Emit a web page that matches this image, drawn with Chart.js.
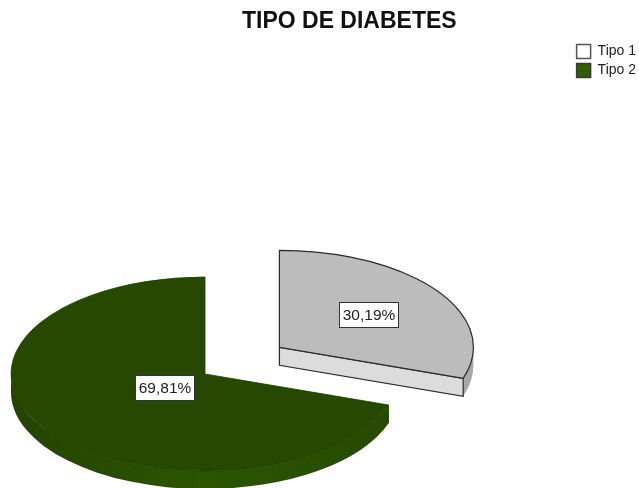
<!DOCTYPE html>
<html>
<head>
<meta charset="utf-8">
<style>html,body{margin:0;padding:0;background:#fff}canvas{display:block;filter:blur(0.4px)}</style>
<script src="https://cdn.jsdelivr.net/npm/chart.js@4/dist/chart.umd.min.js"></script>
</head>
<body>
<canvas id="c" width="639" height="488"></canvas>
<script>
const titleText = 'TIPO DE DIABETES';
const categories = ['Tipo 1', 'Tipo 2'];
const percentages = [30.19, 69.81];
const topColors = ['#bcbcbc', '#264800'];
const legendColors = ['#ffffff', '#2f6000'];
const outlineColors = ['#2a2a2a', '#1f3d00'];
const legendOutline = ['#555555', '#3a3a3a'];
const explode = [91.6, 0];
const labelRadius = [0.57, 0.25];

const PIE_X = 205, PIE_Y = 374, RADIUS = 194, TILT = 0.5, DEPTH = 18;

function formatPct(v){ return v.toFixed(2).replace('.', ',') + '%'; }

const tiltedPie = {
  id: 'tiltedPie',
  beforeDatasetsDraw(chart) {
    const ctx = chart.ctx;
    const arcs = chart.getDatasetMeta(0).data;
    const geo = arcs.map((arc, i) => {
      const mid = (arc.startAngle + arc.endAngle) / 2;
      return {
        arc, i, mid,
        a0: arc.startAngle, a1: arc.endAngle,
        cx: PIE_X + Math.cos(mid) * explode[i],
        cy: PIE_Y + Math.sin(mid) * explode[i] * TILT,
        rx: arc.outerRadius, ry: arc.outerRadius * TILT
      };
    });
    // Draw the un-exploded slice first, so the exploded one sits on top.
    [geo[1], geo[0]].forEach(g => {
      const { arc, i, a0, a1, cx, cy, rx, ry } = g;
      // outer wall: only the part facing the viewer
      const wallStart = Math.max(a0, 0), wallEnd = Math.min(a1, Math.PI);
      if (wallEnd > wallStart) {
        const grad = ctx.createLinearGradient(cx - rx, 0, cx + rx, 0);
        if (i === 1) {
          grad.addColorStop(0, '#234400');
          grad.addColorStop(0.5, '#2b5500');
          grad.addColorStop(1, '#264a00');
        } else {
          grad.addColorStop(0, '#a8a8a8');
          grad.addColorStop(1, '#a8a8a8');
        }
        ctx.save();
        ctx.beginPath();
        ctx.ellipse(cx, cy, rx, ry, 0, wallStart, wallEnd);
        ctx.ellipse(cx, cy + DEPTH, rx, ry, 0, wallEnd, wallStart, true);
        ctx.closePath();
        ctx.fillStyle = grad;
        ctx.fill();
        ctx.restore();
      }
      // radial cut face, visible when the edge faces the viewer
      if (i === 0) {
        const ex = cx + Math.cos(a1) * rx, ey = cy + Math.sin(a1) * ry;
        ctx.beginPath();
        ctx.moveTo(cx, cy);
        ctx.lineTo(ex, ey);
        ctx.lineTo(ex, ey + DEPTH);
        ctx.lineTo(cx, cy + DEPTH);
        ctx.closePath();
        ctx.fillStyle = '#dcdcdc';
        ctx.fill();
        ctx.strokeStyle = outlineColors[i];
        ctx.lineWidth = 1.2;
        ctx.stroke();
      }
      // top face: the library's own arc, under a tilt transform
      ctx.save();
      ctx.translate(cx, cy);
      ctx.scale(1, TILT);
      ctx.translate(-arc.x, -arc.y);
      arc.draw(ctx);
      ctx.restore();
      // outline of the top face
      ctx.beginPath();
      ctx.ellipse(cx, cy, rx, ry, 0, a0, a1);
      ctx.lineTo(cx, cy);
      ctx.closePath();
      ctx.strokeStyle = outlineColors[i];
      ctx.lineWidth = i === 0 ? 1.2 : 0.8;
      ctx.stroke();
      if (i === 1) {
        const ex = cx + Math.cos(a0) * rx, ey = cy + Math.sin(a0) * ry;
        ctx.fillStyle = '#264a00';
        ctx.fillRect(ex - 1, ey, 1, DEPTH);
      }
    });
    // value labels
    geo.forEach(g => {
      const { i, mid, cx, cy, rx, ry } = g;
      const lx = cx + Math.cos(mid) * rx * labelRadius[i];
      const ly = cy + Math.sin(mid) * ry * labelRadius[i];
      const text = formatPct(percentages[i]);
      ctx.font = '15.5px "Liberation Sans", Arial, sans-serif';
      ctx.textAlign = 'center';
      ctx.textBaseline = 'middle';
      const w = 59, h = 25;
      const bx = Math.round(lx - w / 2) - 1, by = Math.round(ly - h / 2) - 1;
      ctx.fillStyle = '#ffffff';
      ctx.fillRect(bx, by, w, h);
      ctx.strokeStyle = '#333333';
      ctx.lineWidth = 1;
      ctx.strokeRect(bx + 0.5, by + 0.5, w, h);
      ctx.fillStyle = '#222222';
      ctx.fillText(text, bx + 30, by + 13.5);
    });
    return false;
  }
};

new Chart(document.getElementById('c'), {
  type: 'pie',
  data: {
    labels: categories,
    datasets: [{
      data: percentages,
      backgroundColor: topColors,
      borderWidth: 0,
      offset: 0
    }]
  },
  options: {
    responsive: false,
    animation: false,
    radius: RADIUS,
    layout: { padding: { left: 127, right: -7, top: 0, bottom: 0 } },
    plugins: {
      tooltip: { enabled: false },
      title: {
        display: true,
        text: titleText,
        fullSize: false,
        color: '#111111',
        font: { family: '"Liberation Sans", Arial, sans-serif', size: 23, weight: 'bold', lineHeight: 1.2 },
        padding: { top: 8, bottom: 4 }
      },
      legend: {
        display: true,
        position: 'right',
        align: 'start',
        fullSize: false,
        labels: {
          boxWidth: 14,
          boxHeight: 14,
          padding: 5,
          color: '#222222',
          font: { family: '"Liberation Sans", Arial, sans-serif', size: 14 },
          generateLabels() {
            return categories.map((name, i) => ({
              text: name,
              fillStyle: legendColors[i],
              strokeStyle: legendOutline[i],
              lineWidth: 1.5,
              fontColor: '#222222',
              hidden: false,
              index: i
            }));
          }
        }
      }
    }
  },
  plugins: [tiltedPie]
});
</script>
</body>
</html>
